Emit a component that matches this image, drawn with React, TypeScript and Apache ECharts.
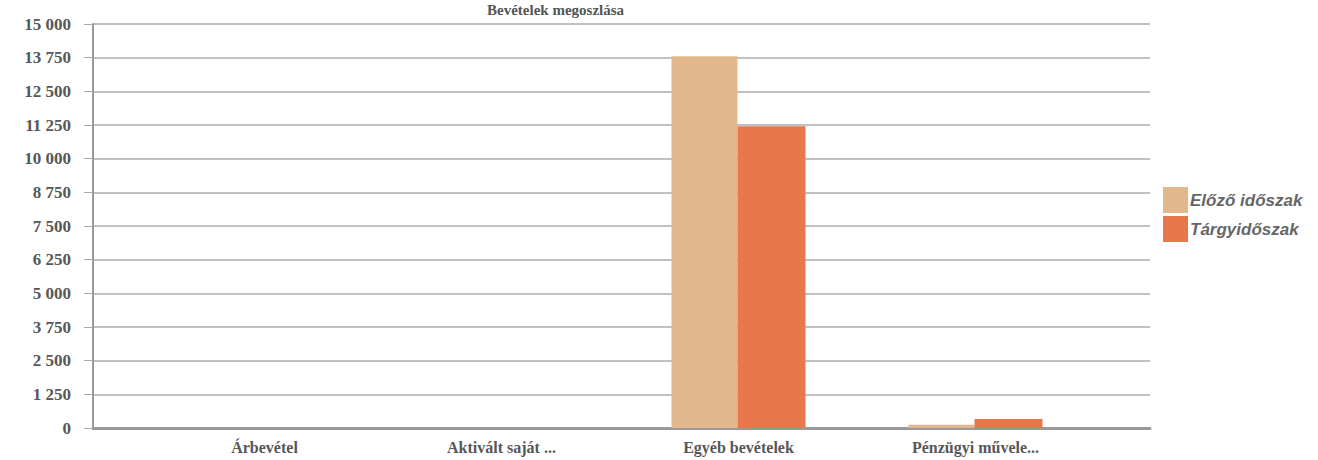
import React, { useEffect, useRef } from "react";
import * as echarts from "echarts";

const categories = ["Árbevétel", "Aktivált saját ...", "Egyéb bevételek", "Pénzügyi művele..."];
const previousPeriod = [0, 0, 13800, 120];
const currentPeriod = [0, 0, 11200, 330];
const seriesNames = ["Előző időszak", "Tárgyidőszak"];
const yMin = 0;
const yMax = 15000;
const yInterval = 1250;
const titleText = "Bevételek megoszlása";

const fmt = (v: number) => String(v).replace(/\B(?=(\d{3})+(?!\d))/g, " ");

export default function App() {
  const ref = useRef<HTMLDivElement>(null);
  useEffect(() => {
    document.body.style.margin = "0";
    const chart = echarts.init(ref.current!, null, { renderer: "svg" });
    const labelFont = {
      fontFamily: "Liberation Serif",
      fontWeight: "bold" as const,
      color: "#575757",
    };
    chart.setOption({
      animation: false,
      backgroundColor: "#ffffff",
      title: {
        text: titleText,
        left: 487,
        top: 2,
        padding: 0,
        textStyle: { fontFamily: "Liberation Serif", fontWeight: "bold", fontSize: 15, color: "#555" },
      },
      legend: {
        orient: "vertical",
        left: 1158,
        top: 182,
        itemWidth: 25,
        itemHeight: 26,
        itemGap: 3,
        icon: "rect",
        data: seriesNames,
        textStyle: {
          fontFamily: "Liberation Sans",
          fontStyle: "italic",
          fontWeight: "bold",
          fontSize: 17,
          color: "#666",
          padding: [0, 0, 0, -3],
        },
      },
      grid: [
        { left: 93, right: 168, top: 24, bottom: 32 },
        { left: 146, right: 224, top: 24, bottom: 32 },
      ],
      xAxis: [
        {
          gridIndex: 0,
          type: "category",
          data: categories,
          axisLine: { show: true, lineStyle: { color: "#999", width: 3 } },
          axisTick: { show: false },
          axisLabel: { show: false },
          splitLine: { show: false },
        },
        {
          gridIndex: 1,
          type: "category",
          data: categories,
          axisLine: { show: false },
          axisTick: { show: false },
          axisLabel: { ...labelFont, fontSize: 16, margin: 11, interval: 0 },
          splitLine: { show: false },
        },
      ],
      yAxis: [
        {
          gridIndex: 0,
          type: "value",
          min: yMin,
          max: yMax,
          interval: yInterval,
          axisLine: { show: true, lineStyle: { color: "#999", width: 2 } },
          axisTick: { show: true, length: 9, lineStyle: { color: "#aaa", width: 1 } },
          axisLabel: { ...labelFont, fontSize: 17, margin: 22, formatter: (v: number) => fmt(v) },
          splitLine: { show: true, lineStyle: { color: "#ababab", width: 1.5 } },
        },
        {
          gridIndex: 1,
          type: "value",
          min: yMin,
          max: yMax,
          interval: yInterval,
          show: false,
          splitLine: { show: false },
        },
      ],
      series: [
        {
          name: seriesNames[0],
          type: "bar",
          xAxisIndex: 1,
          yAxisIndex: 1,
          data: previousPeriod,
          barWidth: 66,
          barGap: "0%",
          itemStyle: { color: "#E3B78C" },
        },
        {
          name: seriesNames[1],
          type: "bar",
          xAxisIndex: 1,
          yAxisIndex: 1,
          data: currentPeriod,
          barWidth: 68,
          barGap: "0%",
          itemStyle: { color: "#E8784B" },
        },
      ],
    });
    return () => chart.dispose();
  }, []);
  return <div ref={ref} style={{ width: 1318, height: 460 }} />;
}
